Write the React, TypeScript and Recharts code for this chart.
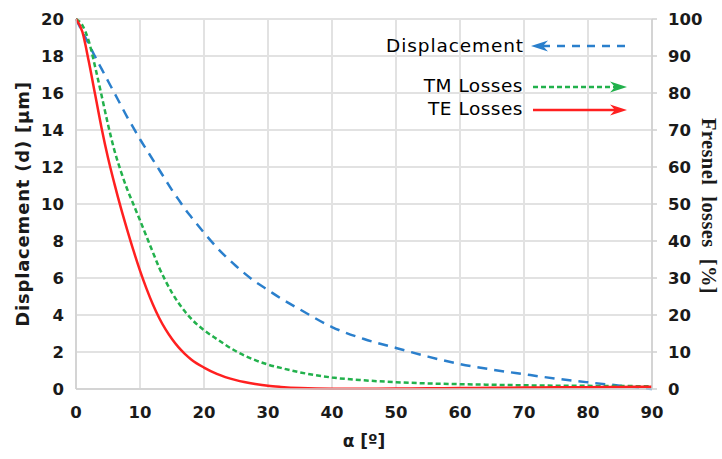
import React from 'react';
import { LineChart, Line, XAxis, YAxis, CartesianGrid, Legend, Label } from 'recharts';

// incidence angle α [º]
const alpha = [0, 1, 2, 3, 4, 5, 6, 7, 8, 9, 10, 11, 12, 13, 14, 15, 16, 17, 18, 20, 22, 25, 28, 30, 32, 35, 40, 45, 50, 55, 60, 65, 70, 75, 80, 85, 90];
// displacement d [μm] (left axis)
const displacement = [20, 19.3, 18.65, 17.95, 17.3, 16.65, 16.0, 15.35, 14.7, 14.1, 13.5, 12.95, 12.4, 11.85, 11.3, 10.75, 10.25, 9.75, 9.3, 8.45, 7.65, 6.65, 5.8, 5.35, 4.9, 4.3, 3.35, 2.7, 2.22, 1.75, 1.35, 1.05, 0.8, 0.56, 0.36, 0.18, 0];
// TM Fresnel losses [%] (right axis)
const tmLosses = [100, 98.3, 94, 87, 79.3, 71.5, 64.5, 58.9, 54.0, 49.8, 45.6, 41.3, 37.0, 32.8, 29.2, 26.0, 23.3, 21.0, 19.0, 15.9, 13.5, 10.2, 7.8, 6.6, 5.7, 4.5, 3.1, 2.35, 1.85, 1.5, 1.3, 1.15, 1.0, 0.9, 0.85, 0.8, 0.75];
// TE Fresnel losses [%] (right axis)
const teLosses = [100, 96.5, 88.5, 79.5, 70.5, 62.5, 55.5, 49, 43, 37.3, 32.0, 27.2, 22.9, 19.2, 16.1, 13.5, 11.3, 9.5, 8.0, 5.8, 4.1, 2.4, 1.35, 0.85, 0.55, 0.25, 0.08, 0.08, 0.12, 0.18, 0.25, 0.32, 0.4, 0.45, 0.5, 0.56, 0.62];

const xTicks = [0, 10, 20, 30, 40, 50, 60, 70, 80, 90];
const leftTicks = [0, 2, 4, 6, 8, 10, 12, 14, 16, 18, 20];
const rightTicks = [0, 10, 20, 30, 40, 50, 60, 70, 80, 90, 100];

const seriesNames = ['Displacement', 'TM Losses', 'TE Losses'];
const xTitle = 'α [º]';
const leftTitle = 'Displacement (d) [μm]';
const rightTitle = 'Fresnel  losses  [%]';

const BLUE = '#2a7fcc';
const GREEN = '#22b14c';
const RED = '#ff2020';

const data = alpha.map((a, i) => ({
  alpha: a,
  d: displacement[i],
  tm: tmLosses[i],
  te: teLosses[i],
}));

const tickStyle = {
  fontFamily: 'DejaVu Sans',
  fontWeight: 700,
  fontSize: 16.5,
  fill: '#1a1a1a',
};

const legendFont = {
  fontFamily: 'DejaVu Sans',
  fontSize: 18.5,
  fill: '#000',
  letterSpacing: 0.5,
};

const LegendBox = () => (
  <svg width={260} height={100} style={{ display: 'block', overflow: 'visible' }}>
    <text x={144} y={25} textAnchor="end" dominantBaseline="central" style={{ ...legendFont, letterSpacing: 0.9 }}>
      {seriesNames[0]}
    </text>
    <line x1={162} y1={26} x2={245} y2={26} stroke={BLUE} strokeWidth={2.5} strokeDasharray="8 7" />
    <polygon points="151,26 168,20.5 163,26 168,31.5" fill={BLUE} />

    <text x={143} y={65} textAnchor="end" dominantBaseline="central" style={legendFont}>
      {seriesNames[1]}
    </text>
    <line x1={153} y1={67} x2={236} y2={67} stroke={GREEN} strokeWidth={2.5} strokeDasharray="5 3" />
    <polygon points="247,67 230,61.5 235,67 230,72.5" fill={GREEN} />

    <text x={143} y={88} textAnchor="end" dominantBaseline="central" style={legendFont}>
      {seriesNames[2]}
    </text>
    <line x1={153} y1={90} x2={236} y2={90} stroke={RED} strokeWidth={2.5} />
    <polygon points="247,90 230,84.5 235,90 230,95.5" fill={RED} />
  </svg>
);

export default function App() {
  return (
    <div style={{ position: 'absolute', left: 0, top: 0, width: 722, height: 459, background: '#fff' }}>
      <LineChart
        width={722}
        height={459}
        data={data}
        margin={{ top: 19, right: 0, bottom: 0, left: 0 }}
      >
        <CartesianGrid
          yAxisId="left"
          stroke="#e2e2e2"
          strokeWidth={2}
          horizontalValues={leftTicks}
          verticalValues={xTicks}
        />
        <XAxis
          dataKey="alpha"
          type="number"
          domain={[0, 90]}
          ticks={xTicks}
          interval={0}
          height={70}
          tickSize={0}
          tickMargin={17}
          tick={tickStyle}
          axisLine={{ stroke: '#cfcfcf', strokeWidth: 1.5 }}
        >
          <Label
            content={() => (
              <text
                x={364}
                y={447}
                textAnchor="middle"
                style={{ fontFamily: 'DejaVu Sans', fontWeight: 700, fontSize: 17, fill: '#1a1a1a' }}
              >
                {xTitle}
              </text>
            )}
          />
        </XAxis>
        <YAxis
          yAxisId="left"
          orientation="left"
          domain={[0, 20]}
          ticks={leftTicks}
          interval={0}
          width={76}
          tickSize={0}
          tickMargin={12}
          tick={tickStyle}
          axisLine={{ stroke: '#cfcfcf', strokeWidth: 1.5 }}
        >
          <Label
            content={() => (
              <text
                x={29}
                y={204}
                transform="rotate(-90 29 204)"
                textAnchor="middle"
                style={{ fontFamily: 'DejaVu Sans', fontWeight: 700, fontSize: 18, fill: '#1a1a1a', letterSpacing: 0.8 }}
              >
                {leftTitle}
              </text>
            )}
          />
        </YAxis>
        <YAxis
          yAxisId="right"
          orientation="right"
          domain={[0, 100]}
          ticks={rightTicks}
          interval={0}
          width={70}
          tickSize={5}
          tickMargin={11}
          tick={{ ...tickStyle, textAnchor: 'start' }}
          tickLine={{ stroke: '#cfcfcf', strokeWidth: 1.5 }}
          axisLine={{ stroke: '#cfcfcf', strokeWidth: 1.5 }}
        >
          <Label
            content={() => (
              <text
                x={702}
                y={206}
                transform="rotate(90 702 206)"
                textAnchor="middle"
                style={{ fontFamily: 'Liberation Serif', fontWeight: 700, fontSize: 20.5, fill: '#1a1a1a', whiteSpace: 'pre', letterSpacing: 0.4 }}
              >
                {rightTitle}
              </text>
            )}
          />
        </YAxis>
        <Legend
          layout="horizontal"
          align="center"
          verticalAlign="middle"
          content={() => <LegendBox />}
          wrapperStyle={{ position: 'absolute', left: 380, top: 20, width: 260, height: 100 }}
        />
        <Line
          yAxisId="left"
          type="monotone"
          dataKey="d"
          name={seriesNames[0]}
          stroke={BLUE}
          strokeWidth={2.5}
          strokeDasharray="10 7"
          dot={false}
          activeDot={false}
          isAnimationActive={false}
        />
        <Line
          yAxisId="right"
          type="monotone"
          dataKey="tm"
          name={seriesNames[1]}
          stroke={GREEN}
          strokeWidth={2.5}
          strokeDasharray="5 3"
          dot={false}
          activeDot={false}
          isAnimationActive={false}
        />
        <Line
          yAxisId="right"
          type="monotone"
          dataKey="te"
          name={seriesNames[2]}
          stroke={RED}
          strokeWidth={2.5}
          dot={false}
          activeDot={false}
          isAnimationActive={false}
        />
      </LineChart>
    </div>
  );
}
